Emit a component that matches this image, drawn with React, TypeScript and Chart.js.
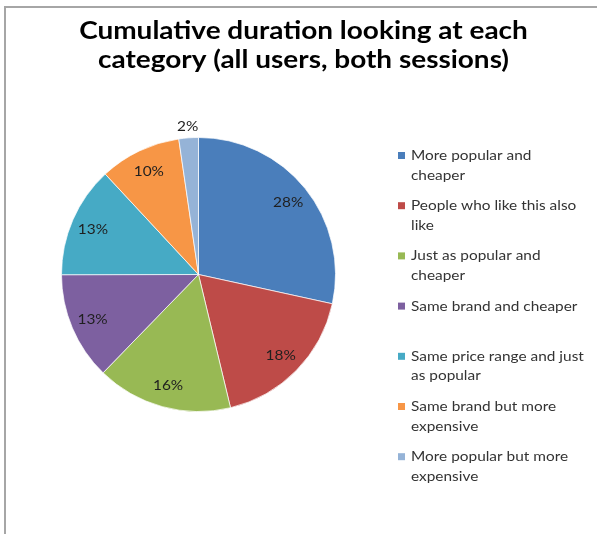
import React, { useEffect, useRef } from "react";
import { Chart, registerables } from "chart.js";

Chart.register(...registerables);

const titleLines = ["Cumulative duration looking at each", "category (all users, both sessions)"];
const categories: string[][] = [
  ["More popular and", "cheaper"],
  ["People who like this also", "like"],
  ["Just as popular and", "cheaper"],
  ["Same brand and cheaper"],
  ["Same price range and just", "as popular"],
  ["Same brand but more", "expensive"],
  ["More popular but more", "expensive"],
];
const shares = [28.4, 17.8, 16.0, 12.7, 13.1, 9.6, 2.3];
const colors = ["#4A7EBB", "#BE4B48", "#98B954", "#7D60A0", "#46AAC5", "#F79646", "#95B3D7"];

const FONT = "Lato, 'Open Sans', sans-serif";

function stretchedText(ctx: any, text: string, x: number, y: number, sx: number, align: string) {
  ctx.save();
  ctx.translate(x, y);
  ctx.scale(sx, 1);
  ctx.textAlign = align;
  ctx.fillText(text, 0, 0);
  ctx.restore();
}

const framePlugin = {
  id: "frame",
  beforeDraw(chart: any) {
    const ctx = chart.ctx;
    ctx.save();
    ctx.fillStyle = "#ffffff";
    ctx.fillRect(0, 0, chart.width, chart.height);
    ctx.strokeStyle = "#a6a6a6";
    ctx.lineWidth = 2;
    ctx.beginPath();
    ctx.moveTo(5, chart.height);
    ctx.lineTo(5, 7);
    ctx.lineTo(chart.width, 7);
    ctx.stroke();
    ctx.restore();
  },
};

const titlePlugin = {
  id: "titleText",
  afterDraw(chart: any) {
    const ctx = chart.ctx;
    ctx.save();
    ctx.fillStyle = "#000000";
    ctx.font = `bold 24px ${FONT}`;
    ctx.textBaseline = "alphabetic";
    titleLines.forEach((line, i) => stretchedText(ctx, line, 303.5, 38.5 + i * 29.5, 1.165, "center"));
    ctx.restore();
  },
};

const legendPlugin = {
  id: "sideLegend",
  afterDraw(chart: any) {
    const ctx = chart.ctx;
    ctx.save();
    ctx.font = `14px ${FONT}`;
    ctx.textBaseline = "alphabetic";
    categories.forEach((lines, i) => {
      const base = 160 + i * 50.2;
      ctx.fillStyle = colors[i];
      ctx.fillRect(398, base - 8, 7, 7);
      ctx.fillStyle = "#333333";
      lines.forEach((t, j) => stretchedText(ctx, t, 411, base + j * 19.5, 1.1, "left"));
    });
    ctx.restore();
  },
};

const labelPlugin = {
  id: "sliceLabels",
  afterDatasetsDraw(chart: any) {
    const ctx = chart.ctx;
    const meta = chart.getDatasetMeta(0);
    ctx.save();
    ctx.font = `14px ${FONT}`;
    ctx.textBaseline = "alphabetic";
    ctx.fillStyle = "#1f1f1f";
    meta.data.forEach((arc: any, i: number) => {
      const p = arc.getProps(["x", "y", "startAngle", "endAngle", "outerRadius"], true);
      const mid = (p.startAngle + p.endAngle) / 2;
      const v = shares[i];
      const r = v < 5 ? p.outerRadius + 12 : p.outerRadius * 0.84;
      stretchedText(ctx, `${Math.round(v)}%`, p.x + Math.cos(mid) * r, p.y + Math.sin(mid) * r + 5, 1.1, "center");
    });
    ctx.restore();
  },
};

export default function App() {
  const ref = useRef<HTMLCanvasElement | null>(null);
  useEffect(() => {
    if (!ref.current) return;
    const chart = new Chart(ref.current, {
      type: "pie",
      data: {
        labels: categories.map((l) => l.join(" ")),
        datasets: [
          {
            data: shares,
            backgroundColor: colors,
            borderColor: "rgba(255,255,255,0.7)",
            borderWidth: 1,
          },
        ],
      },
      options: {
        responsive: false,
        animation: false,
        layout: { padding: { left: 61, right: 261, top: 137, bottom: 122 } },
        plugins: {
          legend: { display: false },
          title: { display: false },
          tooltip: { enabled: false },
        },
      },
      plugins: [framePlugin, titlePlugin, legendPlugin, labelPlugin],
    });
    return () => chart.destroy();
  }, []);
  return (
    <div style={{ position: "fixed", left: 0, top: 0, width: 597, height: 534 }}>
      <canvas ref={ref} width={597} height={534} style={{ display: "block" }} />
    </div>
  );
}
